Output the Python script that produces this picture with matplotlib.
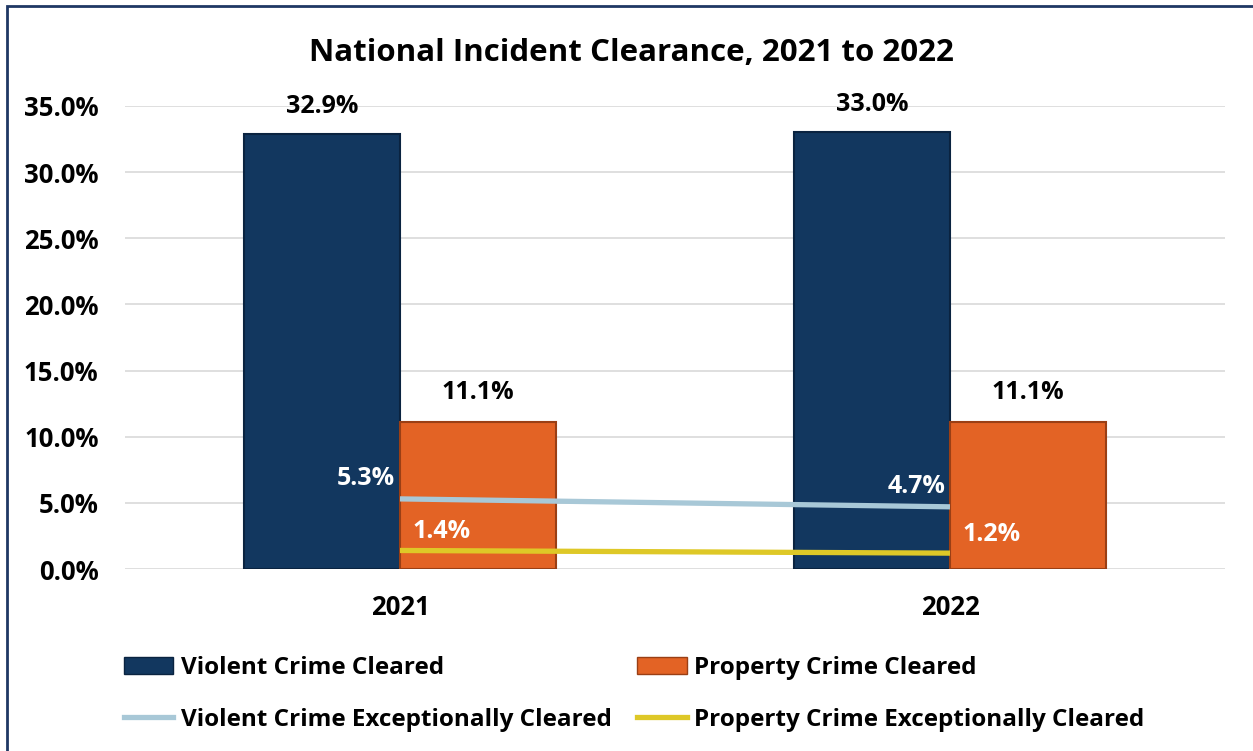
import matplotlib
matplotlib.use("Agg")
import matplotlib.pyplot as plt
from matplotlib.patches import Rectangle
from matplotlib.lines import Line2D
from matplotlib.patches import Patch
import numpy as np

plt.rcParams['font.family'] = ['Open Sans', 'DejaVu Sans']

years = ["2021", "2022"]
violent_cleared = [32.9, 33.0]
property_cleared = [11.1, 11.1]
violent_exc = [5.3, 4.7]
property_exc = [1.4, 1.2]
yticks = [0, 5, 10, 15, 20, 25, 30, 35]

c_viol = "#12375F"
c_prop = "#E36325"
c_vexc = "#A8C8D7"
c_pexc = "#DEC827"

fig = plt.figure(figsize=(12.53, 7.51), dpi=100)
ax = fig.add_axes([125/1253, 1-569/751, 1100/1253, 463/751])

x = np.arange(len(years))
w = 0.284
ax.bar(x - w/2, violent_cleared, w, color=c_viol, edgecolor="#0A2340", linewidth=1.5, zorder=2)
ax.bar(x + w/2, property_cleared, w, color=c_prop, edgecolor="#9A3F15", linewidth=1.5, zorder=2)

ax.plot(x, violent_exc, color=c_vexc, lw=3.8, zorder=3, solid_capstyle='butt')
ax.plot(x, property_exc, color=c_pexc, lw=3.8, zorder=3, solid_capstyle='butt')

fs_tick = 18.5
fs_lab = 18
fs_leg = 17.5
for xi, v in zip(x, violent_cleared):
    ax.annotate(f"{v:.1f}%", (xi - w/2, v), xytext=(0, 20), textcoords="offset points",
                ha="center", va="center", fontsize=fs_lab, fontweight="bold")
for xi, v in zip(x, property_cleared):
    ax.annotate(f"{v:.1f}%", (xi + w/2, v), xytext=(0, 21), textcoords="offset points",
                ha="center", va="center", fontsize=fs_lab, fontweight="bold")
for xi, v in zip(x, violent_exc):
    ax.annotate(f"{v:.1f}%", (xi, v), xytext=(-3.5, 14.5), textcoords="offset points",
                ha="right", va="center", fontsize=fs_lab, fontweight="bold", color="white")
for xi, v in zip(x, property_exc):
    ax.annotate(f"{v:.1f}%", (xi, v), xytext=(9, 13.5), textcoords="offset points",
                ha="left", va="center", fontsize=fs_lab, fontweight="bold", color="white")

ax.set_xlim(-0.5, 1.5)
ax.set_ylim(0, 35)
ax.set_yticks(yticks)
ax.set_yticklabels([f"{t:.1f}%" for t in yticks], fontsize=fs_tick, fontweight="bold")
ax.set_xticks(x)
ax.set_xticklabels(years, fontsize=fs_tick, fontweight="bold")
ax.tick_params(length=0)
ax.tick_params(axis='y', pad=19)
ax.tick_params(axis='x', pad=18)
ax.grid(axis='y', color="#D9D9D9", lw=1.2, zorder=0)
ax.set_axisbelow(True)
for s in ax.spines.values():
    s.set_visible(False)

fig.text(631/1253, 1-53/751, "National Incident Clearance, 2021 to 2022", ha="center", va="center",
         fontsize=22.5, fontweight="bold")

handles = [Patch(facecolor=c_viol, edgecolor="#0A2340"),
           Line2D([], [], color=c_vexc, lw=3.8),
           Patch(facecolor=c_prop, edgecolor="#9A3F15"),
           Line2D([], [], color=c_pexc, lw=3.8)]
labels = ["Violent Crime Cleared", "Violent Crime Exceptionally Cleared",
          "Property Crime Cleared", "Property Crime Exceptionally Cleared"]
leg = fig.legend(handles, labels, ncol=2, loc="center", bbox_to_anchor=(634/1253, 1-694/751),
                 frameon=False, prop={'size': fs_leg, 'weight': 'bold'}, handlelength=2.05,
                 handletextpad=0.3, columnspacing=1.05, labelspacing=1.14)

fig.patches.append(Rectangle((7/1253, -0.05), 1.1, 1-6/751+0.05, transform=fig.transFigure,
                             fill=False, edgecolor="#1F3864", lw=2.0))

fig.savefig("out.png", dpi=100)
